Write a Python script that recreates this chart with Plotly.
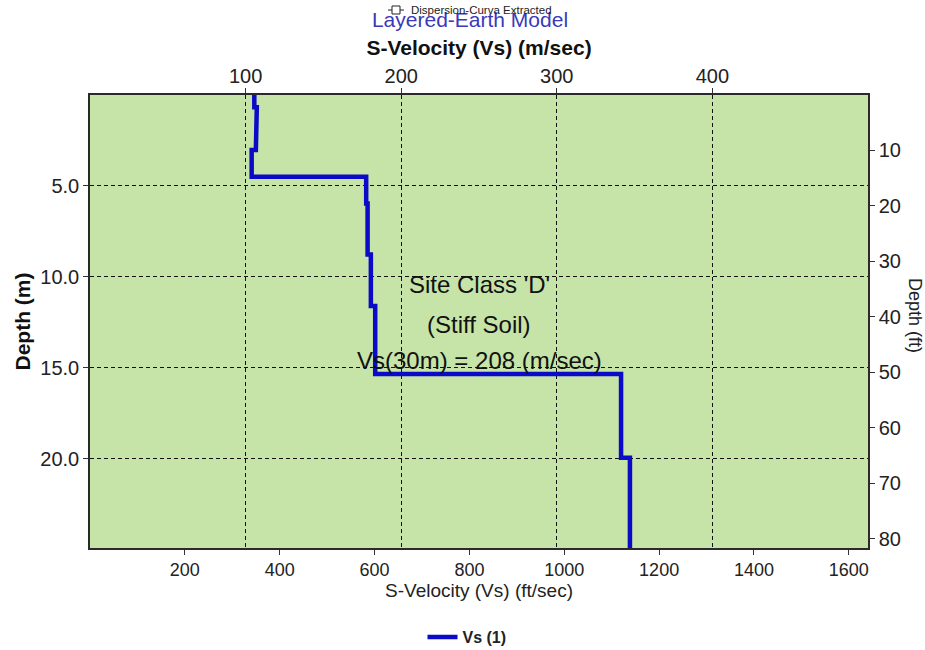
import plotly.graph_objects as go

# Layered shear-wave velocity profile (metric)
layer_top_m = [0.0, 0.67, 1.7, 3.03, 4.5, 5.96, 8.77, 11.6, 15.34, 19.94]
layer_vs_mps = [105.6, 107.2, 106.6, 103.9, 177.5, 178.4, 180.5, 183.3, 341.3, 347.0]
profile_bottom_m = 24.9

m_to_ft = 3.28084

vel_top_ticks = [100, 200, 300, 400]
vel_bottom_ticks = [200, 400, 600, 800, 1000, 1200, 1400, 1600]
depth_m_ticks = [5, 10, 15, 20]
depth_ft_ticks = [10, 20, 30, 40, 50, 60, 70, 80]

site_lines = ["Site Class 'D'", "(Stiff Soil)", "Vs(30m) = 208 (m/sec)"]
site_label_vs = [250, 250, 250]
site_label_depth = [10.4, 12.6, 14.6]

# Build the stepped profile from layer tops/velocities
xs, ys = [], []
bottoms = layer_top_m[1:] + [profile_bottom_m]
for top, bot, v in zip(layer_top_m, bottoms, layer_vs_mps):
    xs += [v, v]
    ys += [top, bot]

FONT = "Liberation Sans, Arial, sans-serif"
GRID = dict(showgrid=True, gridcolor="#111111", griddash="4px,3px", gridwidth=1)


def axis_style(size):
    return dict(showline=True, linecolor="#2a2a2a", linewidth=1.5,
                ticks="outside", ticklen=5, tickcolor="#333333",
                tickfont=dict(family=FONT, size=size, color="#222222"),
                zeroline=False)


fig = go.Figure()
fig.add_trace(go.Scatter(
    x=xs, y=ys, xaxis="x2", yaxis="y", mode="lines",
    line=dict(color="#0a0ac8", width=4.5),
    name="<b>Vs (1)</b>",
))
# Imperial-unit companion axes (bottom / right) carry the same profile, hidden
fig.add_trace(go.Scatter(
    x=[v * m_to_ft for v in xs], y=[d * m_to_ft for d in ys],
    xaxis="x", yaxis="y2", mode="lines", line=dict(width=0),
    opacity=0, hoverinfo="skip", showlegend=False,
))

fig.update_layout(
    width=925, height=650,
    margin=dict(l=90, r=57, t=95, b=102),
    paper_bgcolor="white",
    plot_bgcolor="#c6e3a8",
    font=dict(family=FONT, color="#222222"),
    title=dict(text="Layered-Earth Model", x=470 / 925, xanchor="center",
               y=1 - 20 / 650, yanchor="middle",
               font=dict(family=FONT, size=21, color="#3a3ab8")),
    xaxis=dict(range=[0, 500 * m_to_ft], tickvals=vel_bottom_ticks,
               side="bottom", anchor="y2", showgrid=False,
               title=dict(text="S-Velocity (Vs) (ft/sec)", standoff=4,
                          font=dict(family=FONT, size=19, color="#222222")),
               **axis_style(18)),
    xaxis2=dict(range=[0, 500], tickvals=vel_top_ticks, overlaying="x",
                side="top", anchor="y", ticklabelstandoff=-3,
                title=dict(text="<b>S-Velocity (Vs) (m/sec)</b>", standoff=4,
                           font=dict(family=FONT, size=21, color="#111111")),
                **GRID, **axis_style(20)),
    yaxis=dict(range=[profile_bottom_m, 0], tickvals=depth_m_ticks,
               tickformat=".1f", side="left", anchor="x2",
               title=dict(text="<b>Depth (m)</b>", standoff=4,
                          font=dict(family=FONT, size=21, color="#111111")),
               **GRID, **axis_style(20)),
    yaxis2=dict(range=[profile_bottom_m * m_to_ft, 0], tickvals=depth_ft_ticks,
                overlaying="y", side="right", anchor="x", showgrid=False,
                **axis_style(20)),
    legend=dict(orientation="h", x=(467 - 90) / 778, xanchor="center",
                yref="container", y=1 - 637 / 650, yanchor="middle",
                font=dict(family=FONT, size=16, color="#222222"),
                itemwidth=30),
    showlegend=True,
)

# Right-hand axis title reading downward
fig.add_annotation(text="Depth (ft)", xref="paper", yref="paper",
                   x=(915 - 90) / 778, y=(548 - 315) / 453, textangle=90,
                   showarrow=False, xanchor="center", yanchor="middle",
                   font=dict(family=FONT, size=18, color="#222222"))

# Site classification notes
for txt, vx, dy in zip(site_lines, site_label_vs, site_label_depth):
    fig.add_annotation(text=txt, x=vx, y=dy, xref="x2", yref="y",
                       showarrow=False, font=dict(family=FONT, size=24, color="#111111"))

# Small caption with its symbol above the title
fig.add_annotation(text="Dispersion-Curva Extracted", xref="paper", yref="paper",
                   x=(409 - 90) / 778, y=(548 - 10) / 453, xanchor="left",
                   yanchor="middle", showarrow=False,
                   font=dict(family=FONT, size=11.5, color="#222222"))
fig.add_shape(type="line", xref="paper", yref="paper",
              x0=(388 - 90) / 778, x1=(404 - 90) / 778,
              y0=(548 - 10) / 453, y1=(548 - 10) / 453,
              line=dict(color="#222222", width=1))
fig.add_shape(type="rect", xref="paper", yref="paper",
              x0=(392 - 90) / 778, x1=(400 - 90) / 778,
              y0=(548 - 14) / 453, y1=(548 - 6) / 453,
              line=dict(color="#222222", width=1), fillcolor="white")

fig.write_html("out.html")
